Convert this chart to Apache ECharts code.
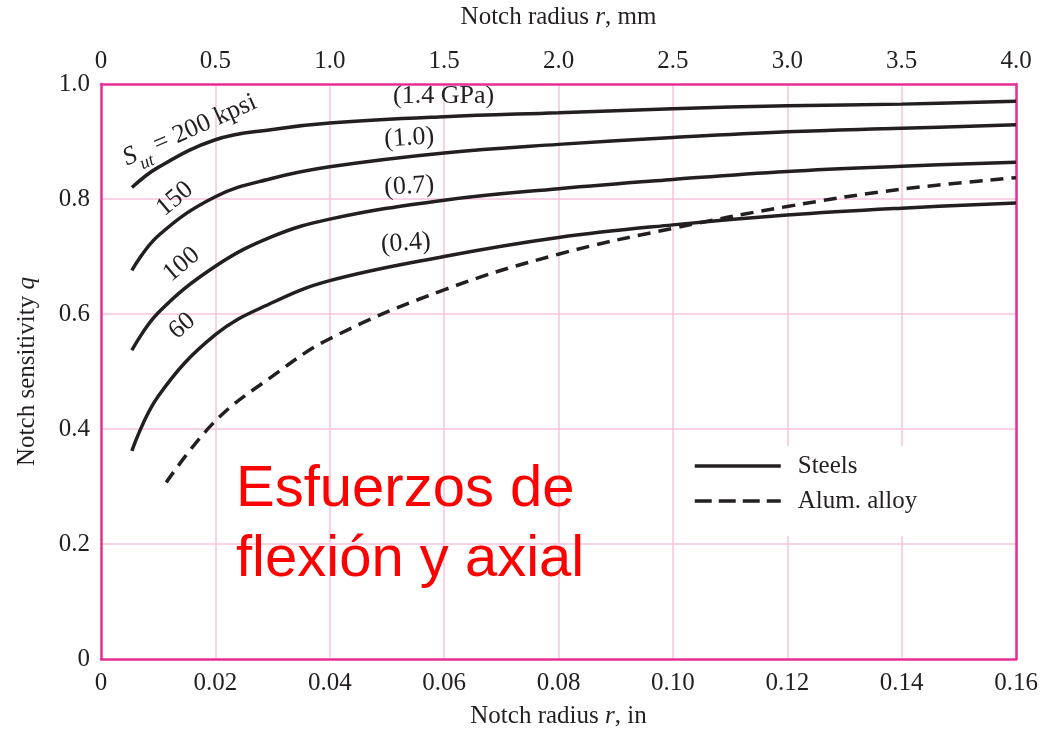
<!DOCTYPE html>
<html>
<head>
<meta charset="utf-8">
<script src="https://cdn.jsdelivr.net/npm/echarts@6/dist/echarts.min.js"></script>
<style>
  html, body { margin: 0; padding: 0; background: #fff; }
  #chart { width: 1042px; height: 734px; }
</style>
</head>
<body>
<div id="chart"></div>
<script>
// Notch sensitivity q versus notch radius r (bending and axial loads)

// notch radius, inches, sampled along the steel curves
const steelRadius = [0.0054, 0.01, 0.02, 0.03, 0.04, 0.06, 0.08, 0.10, 0.12, 0.14, 0.16];
// q for steels by ultimate strength
const steel200 = [0.820, 0.855, 0.903, 0.921, 0.932, 0.943, 0.950, 0.957, 0.962, 0.965, 0.970];
const steel150 = [0.676, 0.736, 0.804, 0.836, 0.856, 0.880, 0.895, 0.907, 0.917, 0.923, 0.929];
const steel100 = [0.537, 0.602, 0.683, 0.735, 0.765, 0.798, 0.818, 0.834, 0.848, 0.857, 0.864];
const steel60  = [0.362, 0.457, 0.564, 0.620, 0.658, 0.700, 0.733, 0.755, 0.772, 0.784, 0.793];

// aluminium alloy curve
const alumRadius = [0.0114, 0.02, 0.03, 0.04, 0.06, 0.08, 0.10, 0.12, 0.14, 0.16];
const alumQ      = [0.307, 0.414, 0.492, 0.557, 0.642, 0.704, 0.749, 0.787, 0.817, 0.837];

// axis ranges and tick steps
const inchTicks = { min: 0, max: 0.16, step: 0.02 };
const mmTicks   = { min: 0, max: 4.0, step: 0.5 };
const qTicks    = { min: 0, max: 1.0, step: 0.2 };

// curve annotations: text, r (in), q, rotation (deg)
const curveNotes = [
  ['{a|S}{b|ut}{c| = 200 kpsi}', 0.0158, 0.913, 24],
  ['150', 0.0129, 0.800, 40],
  ['100', 0.0141, 0.686, 40],
  ['60', 0.0142, 0.579, 40],
  ['(1.4 GPa)', 0.0599, 0.978, 0],
  ['(1.0)', 0.0539, 0.906, 4],
  ['(0.7)', 0.0539, 0.822, 4],
  ['(0.4)', 0.0533, 0.723, 4]
];

const ink = '#231f20';
const frame = '#e52e96';
const gridPink = '#f8c3dc';
const serif = '"Liberation Serif", "DejaVu Serif", serif';
const fs = 25;

const pairs = (xs, ys) => xs.map((x, i) => [x, ys[i]]);

const steelLine = (data) => ({
  type: 'line',
  name: 'Steels',
  data: data,
  smooth: 0.4,
  symbol: 'none',
  lineStyle: { color: ink, width: 3.5 },
  itemStyle: { color: ink },
  silent: true,
  z: 3
});

const italicRich = { i: { fontFamily: serif, fontSize: fs, color: ink, fontStyle: 'italic' } };

const chart = echarts.init(document.getElementById('chart'), null, { renderer: 'canvas' });

chart.setOption({
  animation: false,
  backgroundColor: '#fff',
  grid: { left: 101, right: 26, top: 84, bottom: 74, containLabel: false },
  legend: {
    data: [
      { name: 'Steels' },
      { name: 'Alum. alloy', lineStyle: { type: [17, 7] } }
    ],
    orient: 'vertical',
    left: 676,
    top: 446,
    itemWidth: 86,
    itemHeight: 14,
    itemGap: 9,
    padding: [7, 8, 22, 17],
    backgroundColor: '#fff',
    selectedMode: false,
    itemStyle: { opacity: 0 },
    lineStyle: { width: 3.5 },
    textStyle: { fontFamily: serif, fontSize: fs, lineHeight: 26, color: ink, padding: [0, 0, 0, 12] }
  },
  xAxis: [
    {
      type: 'value',
      position: 'bottom',
      min: inchTicks.min, max: inchTicks.max, interval: inchTicks.step,
      name: 'Notch radius {i|r}, in',
      nameLocation: 'middle',
      nameGap: 45,
      nameTextStyle: { fontFamily: serif, fontSize: fs, color: ink, rich: italicRich },
      axisLine: { show: true, onZero: false, lineStyle: { color: frame, width: 2.5 } },
      axisTick: { show: false },
      axisLabel: {
        margin: 12, fontFamily: serif, fontSize: fs, color: ink,
        formatter: v => v === 0 ? '0' : v.toFixed(2)
      },
      splitLine: { show: true, showMinLine: false, showMaxLine: false, lineStyle: { color: gridPink, width: 1.5 } }
    },
    {
      type: 'value',
      position: 'top',
      min: mmTicks.min, max: mmTicks.max, interval: mmTicks.step,
      name: 'Notch radius {i|r}, mm',
      nameLocation: 'middle',
      nameGap: 54,
      nameTextStyle: { fontFamily: serif, fontSize: fs, color: ink, rich: italicRich },
      axisLine: { show: true, onZero: false, lineStyle: { color: frame, width: 2.5 } },
      axisTick: { show: false },
      axisLabel: {
        margin: 10, fontFamily: serif, fontSize: fs, color: ink,
        formatter: v => v === 0 ? '0' : v.toFixed(1)
      },
      splitLine: { show: false }
    }
  ],
  yAxis: [
    {
      type: 'value',
      position: 'left',
      min: qTicks.min, max: qTicks.max, interval: qTicks.step,
      name: 'Notch sensitivity {i|q}',
      nameLocation: 'middle',
      nameGap: 61,
      nameTextStyle: { fontFamily: serif, fontSize: fs, color: ink, rich: italicRich },
      axisLine: { show: true, onZero: false, lineStyle: { color: frame, width: 2.5 } },
      axisTick: { show: false },
      axisLabel: {
        margin: 11, fontFamily: serif, fontSize: fs, color: ink,
        formatter: v => v === 0 ? '0' : v.toFixed(1)
      },
      splitLine: { show: true, showMinLine: false, showMaxLine: false, lineStyle: { color: gridPink, width: 1.5 } }
    },
    {
      type: 'value',
      position: 'right',
      min: qTicks.min, max: qTicks.max, interval: qTicks.step,
      axisLine: { show: true, onZero: false, lineStyle: { color: frame, width: 2.5 } },
      axisTick: { show: false },
      axisLabel: { show: false },
      splitLine: { show: false }
    }
  ],
  series: [
    steelLine(pairs(steelRadius, steel200)),
    steelLine(pairs(steelRadius, steel150)),
    steelLine(pairs(steelRadius, steel100)),
    steelLine(pairs(steelRadius, steel60)),
    {
      type: 'line',
      name: 'Alum. alloy',
      data: pairs(alumRadius, alumQ),
      smooth: 0.4,
      symbol: 'none',
      lineStyle: { color: ink, width: 3.5, type: [13, 8] },
      itemStyle: { color: ink },
      silent: true,
      z: 3
    },
    {
      // text annotations placed in data coordinates
      type: 'scatter',
      name: 'notes',
      symbolSize: 1,
      itemStyle: { color: 'rgba(0,0,0,0)', opacity: 1 },
      silent: true,
      z: 4,
      data: curveNotes.map(n => ({
        value: [n[1], n[2]],
        label: {
          show: true,
          position: 'inside',
          rotate: n[3],
          formatter: n[0],
          fontFamily: serif,
          fontSize: 26,
          color: ink,
          opacity: 1,
          textBorderWidth: 0,
          rich: {
            a: { fontFamily: serif, fontSize: 26, color: ink, fontStyle: 'italic', lineHeight: 34, verticalAlign: 'top' },
            b: { fontFamily: serif, fontSize: 18, color: ink, fontStyle: 'italic', lineHeight: 34, verticalAlign: 'bottom' },
            c: { fontFamily: serif, fontSize: 26, color: ink, lineHeight: 34, verticalAlign: 'top' }
          }
        }
      }))
    }
  ],
  graphic: [
    {
      type: 'text',
      left: 236,
      top: 455,
      z: 10,
      style: {
        text: 'Esfuerzos de\nflexión y axial',
        fill: '#ff0000',
        font: '58px "Liberation Sans", Arial, sans-serif',
        lineHeight: 70
      }
    }
  ]
});
</script>
</body>
</html>
